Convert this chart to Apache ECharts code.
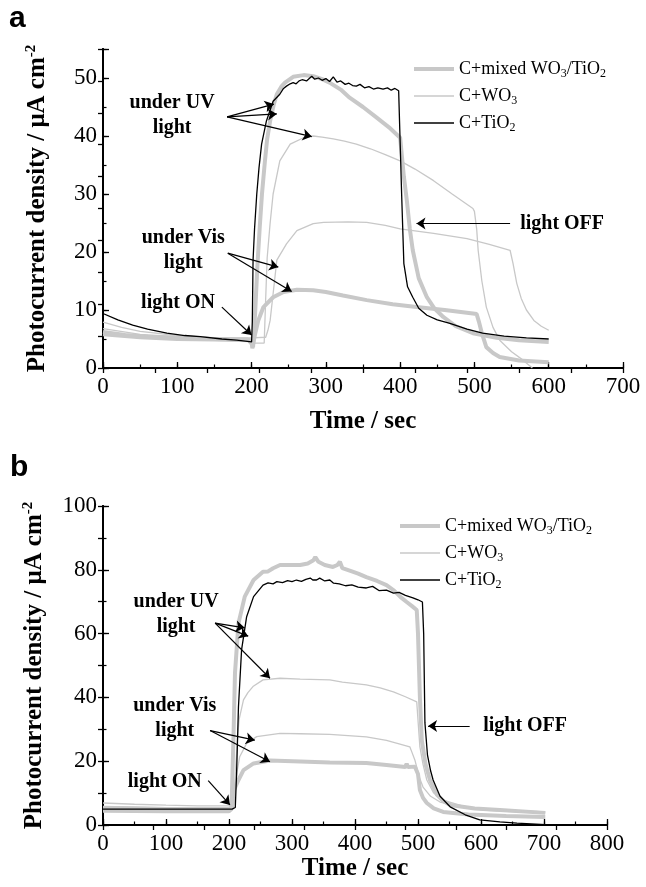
<!DOCTYPE html>
<html><head><meta charset="utf-8">
<script src="https://cdn.jsdelivr.net/npm/echarts@6/dist/echarts.min.js"></script>
<style>html,body{margin:0;padding:0;background:#fff}#c{width:646px;height:887px}</style>
</head><body><div id="c"></div>
<script>
// ---------- DATA ----------
const seriesNames = ['C+mixed WO3/TiO2', 'C+WO3', 'C+TiO2'];
const xTicksA = [0, 700, 100];
const yTicksA = [0, 55, 10];
const xTicksB = [0, 800, 100];
const yTicksB = [0, 100, 20];

// Panel a
const aMixedUV = [[0,6.2],[30,5.7],[60,5.4],[100,5.2],[150,5.0],[195,4.9],[200,4.2],[202,3.6],[205,10],[208,18],[211,24.3],[214,30],[218,35.7],[221,39.5],[225,42.6],[230,45.5],[234,47.2],[240,48.5],[245,49.2],[256,50.2],[270,50.5],[283,50.3],[295,49.8],[305,49.2],[320,48],[332,46.6],[350,45],[368,43.2],[385,41.5],[400,39.7],[405,33],[409,28.9],[413,24],[417,20.3],[425,15.5],[436,12.2],[446,10.3],[458,8.8],[475,7.2],[498,6.0],[530,5.2],[560,4.8],[600,4.5]];
const aMixedVis = [[0,5.8],[50,5.3],[100,5.0],[150,4.9],[200,4.8],[201,3.4],[205,6],[209,8.2],[216,10.5],[229,12.2],[243,13.1],[261,13.5],[283,13.4],[300,13.1],[323,12.5],[355,11.7],[390,11.0],[422,10.5],[460,10.0],[498,9.4],[503,9.3],[506,8],[510,6.0],[516,3.6],[525,2.6],[534,1.9],[560,1.3],[600,1.0]];
const aWO3UV = [[0,7.9],[25,7.0],[50,6.3],[100,5.6],[150,5.2],[200,5.0],[202,4.3],[217,4.3],[219,12],[221,19],[225,25],[229,30],[238,35.7],[252,38.6],[270,39.7],[283,40.0],[295,39.8],[310,39.5],[325,39.1],[341,38.6],[360,37.8],[380,36.8],[400,35.7],[420,34.3],[445,32.3],[470,30.0],[498,27.5],[500,27],[503,24],[505,20.3],[510,15],[516,10.5],[525,7],[534,4.8],[550,2.8],[565,1.4],[578,0]];
const aWO3Vis = [[0,6.8],[50,5.8],[100,5.4],[150,5.2],[200,5.2],[219,5.3],[222,6.5],[225,8.2],[229,12.8],[234,18.6],[247,21.4],[261,23.7],[283,24.9],[297,25.1],[330,25.2],[355,25.1],[380,24.6],[400,24.0],[445,23.2],[490,22.3],[520,21.3],[548,20.3],[552,18],[557,14.6],[563,12],[570,10],[580,8.2],[590,7.2],[600,6.5]];
const aTiO2 = [[0,9.4],[20,8.3],[40,7.4],[60,6.7],[86,6.0],[110,5.6],[131,5.4],[160,5.0],[180,4.8],[200,4.5],[201,8],[202,18.6],[204,24],[207,30],[210,34.5],[213.5,38.6],[220,42.6],[229,46],[238,47.2],[243,48.2],[247,48.6],[252,49.0],[256,49.2],[260,49.0],[264,49.5],[268,49.7],[274,49.5],[281,50.3],[285,49.8],[290,50.0],[295,49.6],[300,49.9],[305,49.4],[310,50.2],[315,49.3],[320,49.5],[326,48.9],[331,49.1],[336,48.7],[341,48.6],[346,48.9],[352,48.3],[358,48.5],[364,48.1],[370,48.3],[377,48.1],[383,48.3],[388,47.9],[393,48.2],[398,47.8],[400,47.8],[402,30],[405,18],[410,14],[417,12.2],[425,10.3],[436,9.1],[450,8.3],[467,7.7],[490,6.7],[511,6.0],[540,5.5],[570,5.2],[600,5.0]];

// Panel b
const bMixedUV = [[0,5.3],[100,5.0],[200,5.0],[204,5.5],[205,6],[207,26.6],[209.5,47.6],[215,63.2],[225,71.6],[239,76.8],[254,79.4],[257,79.9],[262,79.5],[270,80.5],[281,81.5],[300,81.5],[313,81.5],[325,82],[334,83],[337,84],[342,82.5],[352,81.5],[365,80.9],[372,81.5],[376,82.5],[380,80.5],[395,79.5],[405,78.8],[418,77.7],[435,76.5],[450,75.2],[462,73.5],[472,71.5],[482,69.9],[490,68.7],[498,67.4],[500,60],[503,40],[506,26.6],[512,19],[519,14.1],[530,9.5],[540,7.5],[551,6.3],[590,5.2],[630,4.7],[702,3.8]];
const bMixedVis = [[0,4.5],[100,4.3],[200,4.3],[204,5],[206,8],[208,11],[215,14.1],[223,17.2],[239,19.3],[265,20.2],[313,19.9],[360,19.6],[418,19.4],[450,18.8],[480,18.2],[482,19.2],[484,18.2],[495,18.3],[498,17.9],[500,16],[503,11],[508,8.5],[514,6.9],[525,5.2],[540,4.1],[580,3.3],[640,2.8],[702,2.5]];
const bWO3UV = [[0,6.9],[50,6.5],[100,6.2],[150,6.0],[200,6.0],[207,6.0],[210,16],[213,26],[216,33],[223,39.2],[230,41.5],[238,43.4],[254,45.5],[281,46],[313,45.7],[360,45.5],[380,44.8],[418,43.9],[440,43],[461,41.7],[480,40.2],[498,38.6],[501,30],[503,24.5],[508,19],[514,14.1],[525,10],[540,7.8],[570,6],[603,4.7],[650,4.2],[702,3.8]];
const bWO3Vis = [[0,5.8],[100,5.4],[200,5.3],[207,5.5],[210,12],[213,17],[217,21.4],[228,25.6],[244,27.7],[281,28.7],[313,28.6],[360,28.4],[418,27.6],[450,26.5],[487,24.5],[490,23],[495,20.4],[502,15],[508,11.9],[520,9],[535,7.2],[560,6],[600,5.2],[630,4.7],[702,4.1]];
const bTiO2 = [[0,5.0],[50,5.0],[100,5.0],[150,5.0],[205,5.0],[210,5.5],[212,16],[215,37],[220,55],[228,65.3],[239,71.6],[254,75.2],[262,75.9],[270,75.6],[276,76.3],[285,76.0],[293,76.6],[300,76.3],[307,76.8],[315,76.4],[322,77.0],[329,77.4],[333,76.8],[339,76.8],[344,77.4],[352,76.5],[360,76.8],[366,75.8],[375,75.6],[385,75],[395,75.3],[405,74.6],[418,74.3],[428,74.8],[438,73.5],[450,73.6],[461,72.7],[470,72.9],[480,72],[492,71.2],[500,70.6],[507,69.9],[509,60],[511,32],[515,22],[520,17],[524,14.1],[535,9],[551,5.7],[575,3.2],[598,1.6],[630,1.0],[657,0.6],[702,0.1]];

// Annotations (data coordinates)
const arrowsA = [[[167,43.3],[230,45.5]],[[167,43.3],[234,43.8]],[[167,43.3],[281,39.9]],[[168,19.8],[236,17.4]],[[168,19.8],[254,13.2]],[[160,10.5],[200,5.7]],[[548,24.9],[422,24.9]]];
const labelsA = [['under UV\nlight',93,43.5],['under Vis\nlight',108,20.3],['light ON',101,11.3],['light OFF',618,24.9]];
const arrowsB = [[[178,63.3],[225,61.8]],[[178,63.3],[230.5,59.2]],[[178,63.3],[265,46]],[[170,29.6],[241,26.6]],[[170,29.6],[265,19.8]],[[167,13.9],[201.5,6.3]],[[582,31],[516,31]]];
const labelsB = [['under UV\nlight',116,66.1],['under Vis\nlight',114,33.5],['light ON',98,13.5],['light OFF',670,31]];

// ---------- STYLE ----------
const SERIF = 'Liberation Serif';
const GRAY = '#c8c8c8';
const chart = echarts.init(document.getElementById('c'), null, {renderer:'canvas'});

function mainX(grid, t, gap){return {type:'value',gridIndex:grid,position:'bottom',min:t[0],max:t[1],interval:t[2],
  name:'Time / sec',nameLocation:'middle',nameGap:gap,nameTextStyle:{fontFamily:SERIF,fontWeight:'bold',fontSize:25,color:'#000'},
  axisLine:{show:true,lineStyle:{color:'#000',width:2}},axisTick:{show:true,inside:true,length:6,lineStyle:{color:'#000',width:1.3}},
  axisLabel:{fontFamily:SERIF,fontSize:23,color:'#000',margin:7},splitLine:{show:false}};}
function topX(grid, t){return {type:'value',gridIndex:grid,position:'top',min:t[0],max:t[1],interval:(t[1]-t[0])/10,
  axisLine:{show:true,lineStyle:{color:'#000',width:2}},axisTick:{show:true,inside:true,length:5,lineStyle:{color:'#000',width:1.3}},
  axisLabel:{show:false},splitLine:{show:false}};}
function minorX(grid, t){return {type:'value',gridIndex:grid,position:'bottom',min:t[0],max:t[1],interval:t[2]/2,
  axisLine:{show:false},axisTick:{show:true,inside:true,length:3.5,lineStyle:{color:'#000',width:1.2}},
  axisLabel:{show:false},splitLine:{show:false}};}
function mainY(grid, t, gap){return {type:'value',gridIndex:grid,position:'left',min:t[0],max:t[1],interval:t[2],
  name:'Photocurrent density / μA cm{sup|-2}',nameLocation:'middle',nameGap:gap,
  nameTextStyle:{fontFamily:SERIF,fontWeight:'bold',fontSize:25,color:'#000',
    rich:{sup:{fontFamily:SERIF,fontWeight:'bold',fontSize:15,color:'#000',padding:[0,0,12,0]}}},
  axisLine:{show:true,lineStyle:{color:'#000',width:2}},axisTick:{show:true,inside:true,length:6,lineStyle:{color:'#000',width:1.3}},
  axisLabel:{fontFamily:SERIF,fontSize:23,color:'#000',margin:6,formatter:v=> (v % t[2] === 0 ? String(v) : '')},splitLine:{show:false}};}
function rightY(grid, t){return {type:'value',gridIndex:grid,position:'right',min:t[0],max:t[1],interval:(t[1]-t[0])/10,
  axisLine:{show:true,lineStyle:{color:'#000',width:2}},axisTick:{show:true,inside:true,length:5,lineStyle:{color:'#000',width:1.3}},
  axisLabel:{show:false},splitLine:{show:false}};}
function minorY(grid, t){return {type:'value',gridIndex:grid,position:'left',min:t[0],max:t[1],interval:t[2]/2,
  axisLine:{show:false},axisTick:{show:true,inside:true,length:3.5,lineStyle:{color:'#000',width:1.2}},
  axisLabel:{show:false},splitLine:{show:false}};}

function ser(name, data, xi, yi, color, width, z){
  return {type:'line',name,data,xAxisIndex:xi,yAxisIndex:yi,showSymbol:false,symbol:'none',silent:true,animation:false,z:z,
    lineStyle:{color,width},itemStyle:{color}};
}
function annot(xi, yi, arrows, labels){
  return {type:'line',name:'annot',data:[],xAxisIndex:xi,yAxisIndex:yi,silent:true,animation:false,z:10,
    markLine:{silent:true,animation:false,symbol:['none','arrow'],symbolSize:9,precision:3,
      label:{show:false},emphasis:{disabled:true},itemStyle:{color:'#000'},lineStyle:{color:'#000',width:1.2,type:'solid'},
      data:arrows.map(a=>[{coord:a[0]},{coord:a[1]}])},
    markPoint:{silent:true,animation:false,symbol:'circle',symbolSize:0,itemStyle:{color:'transparent'},
      label:{show:true,position:'inside',formatter:'{b}',fontFamily:SERIF,fontWeight:'bold',fontSize:20,lineHeight:25,color:'#000',align:'center'},
      data:labels.map(l=>({name:l[0],coord:[l[1],l[2]]}))}
  };
}
function legend(left, top){
  return {show:true,orient:'vertical',left,top,itemWidth:40,itemHeight:12,itemGap:7,selectedMode:false,
    data:seriesNames,
    itemStyle:{opacity:0},
    lineStyle:{width:'inherit'},
    formatter:n=>n.replace(/O(\d)/g,'O{s|$1}'),
    textStyle:{fontFamily:SERIF,fontSize:18,color:'#000',
      rich:{s:{fontFamily:SERIF,fontSize:12,color:'#000',padding:[10,0,0,0]}}}};
}

const option = {
  animation:false,
  backgroundColor:'#fff',
  grid:[
    {left:103,top:49,width:520,height:319},
    {left:103,top:49,width:520,height:319},
    {left:103,top:506,width:504,height:319},
    {left:103,top:506,width:504,height:319}
  ],
  xAxis:[mainX(0,xTicksA,41),topX(0,xTicksA),minorX(1,xTicksA),mainX(2,xTicksB,31),topX(2,xTicksB),minorX(3,xTicksB)],
  yAxis:[mainY(0,yTicksA,52),rightY(0,yTicksA),minorY(1,yTicksA),mainY(2,yTicksB,55),rightY(2,yTicksB),minorY(3,yTicksB)],
  legend:[legend(407,55),legend(393,512)],
  graphic:[
    {type:'text',left:9,top:4,style:{text:'a',font:'bold 30px "Liberation Sans"',fill:'#000'}},
    {type:'text',left:10,top:453,style:{text:'b',font:'bold 30px "Liberation Sans"',fill:'#000'}}
  ],
  series:[
    ser(seriesNames[0],aMixedUV,0,0,GRAY,4,2),
    ser(seriesNames[0],aMixedVis,0,0,GRAY,4,2),
    ser(seriesNames[1],aWO3UV,0,0,GRAY,1.3,3),
    ser(seriesNames[1],aWO3Vis,0,0,GRAY,1.3,3),
    ser(seriesNames[2],aTiO2,0,0,'#000',1.3,4),
    annot(0,0,arrowsA,labelsA),
    ser(seriesNames[0],bMixedUV,3,3,GRAY,4,2),
    ser(seriesNames[0],bMixedVis,3,3,GRAY,4,2),
    ser(seriesNames[1],bWO3UV,3,3,GRAY,1.3,3),
    ser(seriesNames[1],bWO3Vis,3,3,GRAY,1.3,3),
    ser(seriesNames[2],bTiO2,3,3,'#000',1.3,4),
    annot(3,3,arrowsB,labelsB)
  ]
};
chart.setOption(option);
</script></body></html>
